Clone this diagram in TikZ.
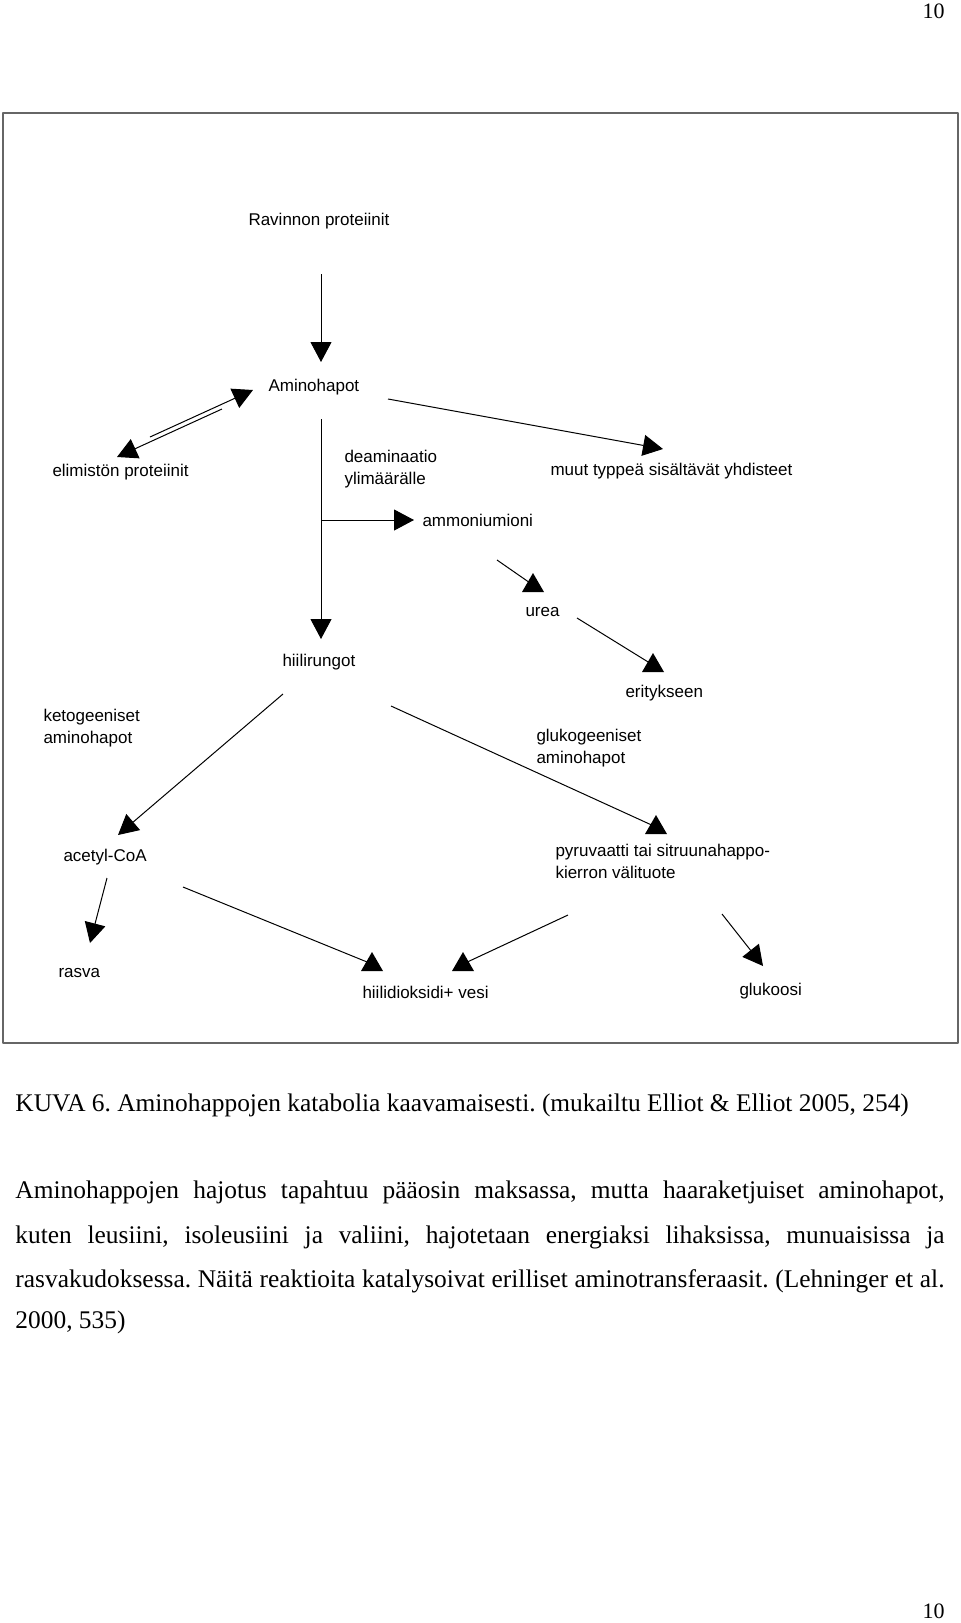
\documentclass[tikz,border=0pt]{standalone}
\usepackage{fontspec}
\setmainfont{Liberation Serif}
\newfontfamily\arialfont{Liberation Sans}
\usetikzlibrary{arrows.meta}
\frenchspacing
\tikzset{
  lbl/.style={font=\arialfont\fontsize{8.5}{11}\selectfont, anchor=west, inner sep=0pt, align=left},
  txt/.style={font=\fontsize{12.7}{15}\selectfont, anchor=base west, inner sep=0pt},
  pagenum/.style={font=\fontsize{11}{13}\selectfont, anchor=base east, inner sep=0pt},
  tri/.pic={\fill (0,0) -- (-11,19) -- (11,19) -- cycle;}
}
\begin{document}
\begin{tikzpicture}[x=0.5pt, y=-0.5pt, line width=0.5pt, line join=round, >={Triangle[length=10pt,width=10.5pt]}]
\useasboundingbox (0,0) rectangle (960,1623);
\node[pagenum] (pagetop) at (945,18) {10};
\node[pagenum] (pagebot) at (945,1618) {10};
\draw[black!60, line width=1pt] (3,113) rectangle (958,1043);

% labels
\foreach \n/\x/\y/\t in {
  rav/248/221/{Ravinnon proteiinit},
  amino/268/387/{Aminohapot},
  elim/52/472/{elimistön proteiinit},
  muut/550/471/{muut typpeä sisältävät yhdisteet},
  deam/344/469/{deaminaatio\\ylimäärälle},
  ammon/422/520/{ammoniumioni},
  urea/525/612/{urea},
  hiili/282/662/{hiilirungot},
  erit/625/693/{eritykseen},
  keto/43/728/{ketogeeniset\\aminohapot},
  gluko/536/748/{glukogeeniset\\aminohapot},
  acetyl/63/857/{acetyl-CoA},
  pyr/555/861/{pyruvaatti tai sitruunahappo-\\kierron välituote},
  rasva/58/973/{rasva},
  co2/362/992/{hiilidioksidi+ vesi},
  gluk/739/991/{glukoosi}}
  {\node[lbl] (\n) at (\x,\y) {\t};}

% connector ends
\coordinate (rav-s) at (321,274);
\coordinate (amino-n) at (321,362);
\coordinate (amino-sw) at (253,390);
\coordinate (elim-ne) at (117,457);
\coordinate (dbl-a) at (150,437);
\coordinate (dbl-b) at (222,409);
\coordinate (amino-e) at (388,399);
\coordinate (muut-n) at (663,449);
\coordinate (amino-s) at (321,419);
\coordinate (hiili-n) at (321,639);
\coordinate (deam-j) at (321,520);
\coordinate (ammon-w) at (414,520);
\coordinate (ammon-s) at (497,560);
\coordinate (urea-n) at (533,573);
\coordinate (urea-e) at (577,618);
\coordinate (erit-n) at (653,653);
\coordinate (hiili-sw) at (283,694);
\coordinate (acetyl-n) at (118,835);
\coordinate (hiili-se) at (391,706);
\coordinate (pyr-n) at (656,815);
\coordinate (acetyl-s) at (107,878);
\coordinate (rasva-n) at (90,943);
\coordinate (acetyl-se) at (183,887);
\coordinate (co2-nw) at (372,952);
\coordinate (pyr-sw) at (568,915);
\coordinate (co2-ne) at (463,952);
\coordinate (pyr-se) at (722,914);
\coordinate (gluk-n) at (763,966);

\foreach \a/\b in {rav-s/amino-n, dbl-a/amino-sw, dbl-b/elim-ne, amino-e/muut-n,
  amino-s/hiili-n, deam-j/ammon-w, hiili-sw/acetyl-n, acetyl-s/rasva-n, pyr-se/gluk-n}
  {\draw[->] (\a) -- (\b);}
% upright heads
\foreach \a/\b in {ammon-s/urea-n, urea-e/erit-n, hiili-se/pyr-n, acetyl-se/co2-nw, pyr-sw/co2-ne}
  {\draw (\a) -- ([yshift=-6pt]\b); \pic at (\b) {tri};}

% caption and text
\node[txt] (cap) at (15,1111) {KUVA 6. Aminohappojen katabolia kaavamaisesti. (mukailtu Elliot \& Elliot 2005, 254)};
\node[txt] (par1) at (15,1198) {\makebox[464.5pt][s]{Aminohappojen hajotus tapahtuu pääosin maksassa, mutta haaraketjuiset aminohapot,}};
\node[txt] (par2) at (15,1243) {\makebox[464.5pt][s]{kuten leusiini, isoleusiini ja valiini, hajotetaan energiaksi lihaksissa, munuaisissa ja}};
\node[txt] (par3) at (15,1287) {\makebox[464.5pt][s]{rasvakudoksessa. Näitä reaktioita katalysoivat erilliset aminotransferaasit. (Lehninger et al.}};
\node[txt] (par4) at (15,1328) {2000, 535)};
\end{tikzpicture}
\end{document}
